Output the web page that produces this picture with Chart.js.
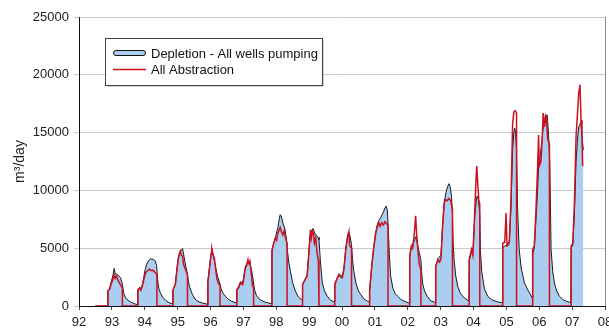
<!DOCTYPE html>
<html>
<head>
<meta charset="utf-8">
<script src="https://cdn.jsdelivr.net/npm/chart.js@4/dist/chart.umd.min.js"></script>
<style>
  html, body { margin: 0; padding: 0; background: #fff; }
</style>
</head>
<body>
<canvas id="depletionChart" width="609" height="331"></canvas>
<script>
// Depletion vs abstraction, daily rates (m3/day), x = years since 1900
const yearTicks = [92, 93, 94, 95, 96, 97, 98, 99, 100, 101, 102, 103, 104, 105, 106, 107, 108];
const valueTicks = [0, 5000, 10000, 15000, 20000, 25000];

const absT = [
  92.50, 92.88, 92.88, 92.93, 92.98, 93.03, 93.07, 93.10, 93.14, 93.18, 93.23, 93.28, 93.32, 93.32,
  93.79, 93.79, 93.84, 93.88, 93.94, 93.99, 94.04, 94.09, 94.14, 94.19, 94.25, 94.31, 94.37, 94.37,
  94.86, 94.86, 94.93, 95.01, 95.05, 95.08, 95.11, 95.15, 95.18, 95.22, 95.26, 95.30, 95.30,
  95.92, 95.92, 95.96, 95.99, 96.02, 96.04, 96.08, 96.12, 96.16, 96.20, 96.25, 96.29, 96.29,
  96.80, 96.80, 96.86, 96.91, 96.98, 97.03, 97.06, 97.10, 97.14, 97.16, 97.20, 97.24, 97.28, 97.31, 97.31,
  97.87, 97.87, 97.92, 97.98, 98.01, 98.05, 98.09, 98.12, 98.16, 98.20, 98.24, 98.28, 98.31, 98.33, 98.33,
  98.80, 98.80, 98.86, 98.94, 98.99, 99.04, 99.07, 99.10, 99.13, 99.16, 99.20, 99.24, 99.28, 99.30, 99.30,
  99.78, 99.78, 99.84, 99.91, 99.96, 100.01, 100.06, 100.11, 100.16, 100.21, 100.23, 100.26, 100.29, 100.29,
  100.84, 100.84, 100.88, 100.92, 100.97, 101.02, 101.07, 101.12, 101.16, 101.21, 101.26, 101.31, 101.36, 101.40, 101.40,
  102.06, 102.06, 102.11, 102.15, 102.20, 102.24, 102.27, 102.31, 102.35, 102.40, 102.40,
  102.85, 102.85, 102.92, 102.97, 103.01, 103.06, 103.11, 103.15, 103.20, 103.25, 103.31, 103.36, 103.36,
  103.87, 103.87, 103.94, 103.98, 104.01, 104.04, 104.07, 104.10, 104.13, 104.16, 104.19, 104.19,
  104.89, 104.89, 104.95, 104.99, 105.02, 105.06, 105.09, 105.14, 105.19, 105.23, 105.27, 105.31, 105.31,
  105.80, 105.80, 105.85, 105.90, 105.95, 105.98, 106.00, 106.05, 106.09, 106.12, 106.16, 106.19, 106.21, 106.23, 106.26, 106.31, 106.31,
  106.97, 106.97, 107.02, 107.07, 107.12, 107.16, 107.20, 107.24, 107.27, 107.30, 107.32
];
const absV = [
  0, 0, 1300, 1450, 1900, 2300, 2700, 2400, 2600, 2250, 2000, 1750, 1550, 0,
  0, 1400, 1550, 1350, 1900, 2500, 2950, 3050, 3200, 3050, 3100, 2900, 2750, 0,
  0, 1400, 1850, 3900, 4500, 4750, 4400, 4300, 3600, 3300, 3000, 2700, 0,
  0, 2100, 3000, 3800, 4500, 4950, 4400, 4100, 3100, 2300, 1900, 1800, 0,
  0, 1400, 1600, 2000, 1850, 2700, 3300, 3500, 4000, 3700, 3900, 2800, 1700, 1600, 0,
  0, 4800, 5400, 5900, 5700, 6300, 6600, 6800, 6400, 6150, 6500, 5900, 5600, 5400, 0,
  0, 1850, 2200, 2600, 4500, 6600, 5900, 6500, 6300, 5450, 5900, 4600, 4000, 3900, 0,
  0, 1850, 2300, 2700, 2500, 2450, 3200, 4750, 5900, 6450, 5300, 5100, 5000, 0,
  0, 1300, 2600, 3850, 5100, 6200, 6800, 7200, 6900, 7200, 7000, 7300, 7100, 6950, 0,
  0, 4300, 5200, 5000, 6300, 7800, 6200, 4800, 3600, 3150, 0,
  0, 3450, 4000, 3800, 4100, 6900, 8900, 9200, 9100, 9300, 9100, 8300, 0,
  0, 4000, 4900, 4400, 6200, 8300, 10500, 12100, 10500, 9200, 8800, 0,
  0, 5450, 5500, 8050, 5200, 5300, 5500, 9200, 15800, 16800, 16900, 16700, 0,
  0, 4900, 5200, 8300, 12000, 14800, 12100, 12500, 14500, 16700, 15500, 16400, 16200, 15600, 14400, 14000, 0,
  0, 5200, 5400, 8900, 14700, 16500, 18400, 19150, 16100, 14700, 12100
];

const depT = [
  92.50, 92.88, 92.88, 92.93, 92.98, 93.03, 93.07, 93.10, 93.15, 93.20, 93.26, 93.32, 93.36, 93.42, 93.50, 93.60, 93.70, 93.78,
  93.79, 93.85, 93.90, 93.96, 94.01, 94.06, 94.11, 94.17, 94.22, 94.27, 94.32, 94.36, 94.39, 94.43, 94.48, 94.55, 94.63, 94.73, 94.85,
  94.86, 94.93, 95.01, 95.08, 95.12, 95.15, 95.20, 95.25, 95.29, 95.33, 95.37, 95.45, 95.53, 95.62, 95.75, 95.91,
  95.92, 95.99, 96.04, 96.09, 96.16, 96.22, 96.28, 96.32, 96.37, 96.45, 96.55, 96.65, 96.79,
  96.80, 96.86, 96.91, 96.98, 97.06, 97.12, 97.16, 97.20, 97.25, 97.30, 97.34, 97.40, 97.49, 97.60, 97.72, 97.86,
  97.87, 97.92, 97.98, 98.05, 98.09, 98.12, 98.16, 98.21, 98.26, 98.31, 98.34, 98.38, 98.43, 98.50, 98.58, 98.67, 98.79,
  98.80, 98.88, 98.94, 99.00, 99.04, 99.08, 99.12, 99.17, 99.22, 99.27, 99.30, 99.34, 99.40, 99.47, 99.55, 99.65, 99.77,
  99.78, 99.85, 99.91, 99.96, 100.01, 100.06, 100.11, 100.16, 100.20, 100.24, 100.29, 100.32, 100.36, 100.43, 100.50, 100.57, 100.67, 100.77, 100.83,
  100.84, 100.88, 100.92, 100.97, 101.02, 101.07, 101.12, 101.17, 101.22, 101.27, 101.31, 101.34, 101.38, 101.41, 101.44, 101.48, 101.55, 101.62, 101.69, 101.80, 101.92, 102.05,
  102.06, 102.11, 102.16, 102.21, 102.25, 102.30, 102.35, 102.40, 102.42, 102.45, 102.51, 102.60, 102.70, 102.84,
  102.85, 102.92, 103.01, 103.06, 103.11, 103.16, 103.21, 103.25, 103.29, 103.33, 103.36, 103.38, 103.41, 103.46, 103.52, 103.60, 103.72, 103.86,
  103.87, 103.94, 103.99, 104.04, 104.08, 104.11, 104.15, 104.19, 104.21, 104.25, 104.33, 104.43, 104.55, 104.70, 104.88,
  104.89, 104.95, 105.02, 105.09, 105.14, 105.19, 105.22, 105.25, 105.28, 105.31, 105.34, 105.39, 105.45, 105.55, 105.65, 105.79,
  105.80, 105.85, 105.90, 105.95, 105.98, 106.02, 106.07, 106.12, 106.17, 106.22, 106.24, 106.28, 106.32, 106.36, 106.41, 106.46, 106.53, 106.61, 106.72, 106.82, 106.96,
  106.97, 107.02, 107.07, 107.12, 107.16, 107.20, 107.24, 107.27, 107.31, 107.34
];
const depV = [
  0, 0, 1300, 1500, 2100, 2600, 3250, 2800, 2750, 2650, 2450, 1900, 1100, 700, 480, 300, 180, 120,
  1400, 1600, 1500, 2300, 3150, 3600, 3900, 4080, 4050, 4000, 3900, 3500, 2300, 1500, 1100, 750, 500, 300, 180,
  1400, 1900, 4000, 4700, 4800, 4970, 4200, 3400, 2900, 2100, 1600, 1000, 600, 400, 260, 150,
  2100, 3900, 4970, 4300, 3300, 2500, 2000, 1500, 1150, 850, 560, 400, 250,
  1400, 1700, 2100, 2000, 3400, 3750, 3800, 3600, 3100, 2200, 1400, 900, 580, 400, 290, 200,
  4800, 5400, 6000, 6800, 7500, 7900, 7700, 7100, 6700, 5800, 4800, 3800, 3000, 2000, 1300, 800, 500,
  1900, 2300, 2700, 5000, 6300, 6500, 6700, 6300, 6100, 5950, 5700, 4000, 2000, 1300, 850, 500, 350,
  1900, 2400, 2800, 2650, 2600, 3300, 4800, 5800, 6400, 6100, 5300, 4000, 3000, 1900, 1300, 990, 600, 420, 350,
  1300, 2700, 3900, 5200, 6300, 7000, 7400, 7600, 7900, 8200, 8500, 8650, 8300, 6500, 4500, 2600, 1500, 1050, 850, 550, 380, 250,
  4300, 5100, 5400, 5700, 6000, 5300, 4600, 4000, 3000, 2000, 1300, 800, 450, 300,
  3450, 4100, 4400, 7000, 9000, 9800, 10300, 10580, 10300, 9500, 8000, 5500, 4000, 2600, 1700, 1100, 700, 420,
  4000, 4700, 5000, 7800, 9000, 9500, 9200, 8000, 4800, 3000, 1500, 850, 550, 380, 280,
  5000, 5200, 5300, 5600, 8500, 13500, 14800, 15400, 15000, 13500, 8500, 4900, 3300, 2000, 1400, 700,
  4500, 5000, 7500, 10000, 12000, 12800, 14000, 15500, 16000, 16300, 16540, 15000, 12500, 4900, 3000, 2000, 1300, 850, 550, 420, 280,
  5000, 5300, 8000, 12500, 14300, 15500, 15700, 15970, 14400, 13500
];

const depletion = depT.map((t, i) => ({ x: t, y: depV[i] }));
const abstraction = absT.map((t, i) => ({ x: t, y: absV[i] }));

const labelFont = { family: "'Liberation Sans', Arial, sans-serif", size: 13 };
const blueFill = "rgb(170,205,240)";
const redLine = "#cc1020";

// legend drawn inside the plot, plus the grey right-hand frame line
const insideLegend = {
  id: "insideLegend",
  afterDraw(chart) {
    const c = chart.ctx;
    const a = chart.chartArea;
    c.save();
    c.strokeStyle = "#8a8a8a";
    c.lineWidth = 1;
    c.beginPath();
    c.moveTo(Math.round(a.right) + 0.5, a.top);
    c.lineTo(Math.round(a.right) + 0.5, a.bottom);
    c.stroke();

    const x = Math.round(a.left) + 26, y = Math.round(a.top) + 21, w = 217, h = 47;
    c.fillStyle = "rgba(0,0,0,0.18)";
    c.fillRect(x + 2, y + 2, w, h);
    c.fillStyle = "#fff";
    c.fillRect(x, y, w, h);
    c.strokeStyle = "#444";
    c.strokeRect(x + 0.5, y + 0.5, w, h);

    c.beginPath();
    c.roundRect(x + 8.5, y + 12.5, 32, 5, 2.5);
    c.fillStyle = blueFill;
    c.fill();
    c.strokeStyle = "#111";
    c.stroke();

    c.beginPath();
    c.moveTo(x + 8, y + 31.5);
    c.lineTo(x + 41, y + 31.5);
    c.strokeStyle = redLine;
    c.lineWidth = 1.6;
    c.stroke();

    c.fillStyle = "#111";
    c.font = "13px 'Liberation Sans', Arial, sans-serif";
    c.textBaseline = "middle";
    c.fillText("Depletion - All wells pumping", x + 46, y + 16);
    c.fillText("All Abstraction", x + 46, y + 32);
    c.restore();
  }
};

new Chart(document.getElementById("depletionChart"), {
  type: "line",
  data: {
    datasets: [
      {
        label: "Depletion - All wells pumping", data: depletion, order: 2,
        borderColor: "#1a1a1a", borderWidth: 1, backgroundColor: blueFill,
        fill: "origin", pointRadius: 0, tension: 0
      },
      {
        label: "All Abstraction", data: abstraction, order: 1,
        borderColor: redLine, borderWidth: 1.5, fill: false, pointRadius: 0, tension: 0
      }
    ]
  },
  options: {
    responsive: false,
    animation: false,
    layout: { padding: { top: 17, right: 4, left: 0, bottom: 0 } },
    plugins: { legend: { display: false }, tooltip: { enabled: false } },
    scales: {
      x: {
        type: "linear",
        min: yearTicks[0], max: yearTicks[yearTicks.length - 1],
        afterBuildTicks: (s) => { s.ticks = yearTicks.map(v => ({ value: v })); },
        afterFit: (s) => { s.height = 25; s.paddingLeft = 0; s.paddingRight = 0; },
        ticks: {
          autoSkip: false, maxRotation: 0, padding: 5, color: "#222", font: labelFont,
          callback: (v) => String(v % 100).padStart(2, "0")
        },
        grid: { drawOnChartArea: false, tickLength: 4, color: "#444" },
        border: { color: "#111", width: 1 }
      },
      y: {
        min: valueTicks[0], max: valueTicks[valueTicks.length - 1],
        afterBuildTicks: (s) => { s.ticks = valueTicks.map(v => ({ value: v })); },
        afterFit: (s) => { s.width = 79; s.paddingTop = 0; s.paddingBottom = 0; },
        ticks: { padding: 5, color: "#222", font: labelFont, callback: (v) => String(v) },
        grid: { color: "#c8c8c8", tickLength: 5 },
        border: { color: "#111", width: 1 },
        title: {
          display: true, text: "m³/day", color: "#222",
          font: { family: "'Liberation Sans', Arial, sans-serif", size: 14 },
          padding: { top: 12, bottom: 0 }
        }
      }
    }
  },
  plugins: [insideLegend]
});
</script>
</body>
</html>
